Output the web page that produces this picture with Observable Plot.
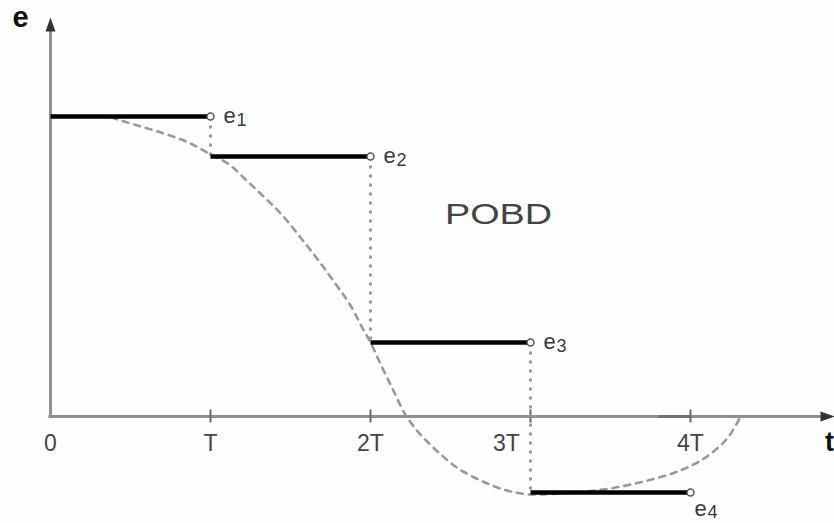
<!DOCTYPE html>
<html>
<head>
<meta charset="utf-8">
<script src="https://cdn.jsdelivr.net/npm/d3@7"></script>
<script src="https://cdn.jsdelivr.net/npm/@observablehq/plot@0.6"></script>
<style>
  html, body { margin: 0; padding: 0; background: #fefefe; }
  #chart svg { display: block; }
</style>
</head>
<body>
<div id="chart"></div>
<script>
// Sampling instants (multiples of the period T) and their axis labels
const ticks = [0, 1, 2, 3, 4];
const tickLabels = ["0", "T", "2T", "3T", "4T"];

// Held (zero-order) values e1..e4: each starts at k·T and lasts one period
const stepStart = [0, 1, 2, 3];
const stepLevel = [3.0, 2.6, 0.74, -0.76];
const stepIndex = ["1", "2", "3", "4"];

// Underlying continuous error signal e(t)
const curveT = [0.38, 0.5, 0.69, 0.875, 1.0, 1.125, 1.206, 1.325, 1.45, 1.5625, 1.675, 1.78, 1.875, 1.955, 2.0,
  2.07, 2.14, 2.21, 2.28, 2.36, 2.44, 2.53, 2.625, 2.73, 2.83, 2.94, 3.0,
  3.2, 3.375, 3.5, 3.64, 3.77, 3.875, 3.98, 4.06, 4.14, 4.21, 4.26, 4.31];
const curveE = [2.99, 2.93, 2.84, 2.73, 2.62, 2.51, 2.39, 2.21, 2.01, 1.79, 1.56, 1.33, 1.11, 0.87, 0.74,
  0.50, 0.27, 0.04, -0.12, -0.26, -0.38, -0.50, -0.59, -0.67, -0.73, -0.77, -0.78,
  -0.77, -0.745, -0.72, -0.675, -0.625, -0.575, -0.51, -0.445, -0.355, -0.255, -0.15, -0.01];

const note = ["POBD"];

const steps = stepStart.map((t, i) => ({t0: t, t1: t + 1, e: stepLevel[i], k: stepIndex[i]}));
const curve = curveT.map((t, i) => ({t, e: curveE[i]}));
// vertical drops joining consecutive held values
const drops = steps.map((s, i) => ({t: s.t1, from: s.e, to: i + 1 < steps.length ? steps[i + 1].e : null}))
  .filter(d => d.to !== null);

const font = "Liberation Sans, Arial, Helvetica, sans-serif";
const ink = "#3a3a3a";
const axisGray = "#919191";

// filled arrowhead pointing up (rotated for the time axis)
const arrowHead = {
  draw(ctx) {
    ctx.moveTo(0, -8);
    ctx.lineTo(5, 6);
    ctx.lineTo(-5, 6);
    ctx.closePath();
  }
};

const chart = Plot.plot({
  width: 834,
  height: 523,
  margin: 0,
  x: {domain: [-0.3125, 4.9], axis: null},
  y: {domain: [-1.07, 4.16], axis: null},
  style: {background: "#fefefe", fontFamily: font, overflow: "visible"},
  marks: [
    // axes
    Plot.ruleY([0], {x1: -0.01, x2: 4.82, stroke: axisGray, strokeWidth: 3}),
    Plot.ruleY([0], {x1: 3.8, x2: 4.0, stroke: "#6f6f6f", strokeWidth: 3}),
    Plot.ruleX([0], {y1: -0.015, y2: 3.9, stroke: axisGray, strokeWidth: 3}),
    Plot.ruleX(ticks.slice(1), {x: d => d, y1: -0.065, y2: 0.065, stroke: "#666", strokeWidth: 2}),
    Plot.dot([0], {x: 0, y: 3.91, symbol: arrowHead, fill: "#333", stroke: null}),
    Plot.dot([0], {x: 4.85, y: 0, symbol: arrowHead, rotate: 90, fill: "#333", stroke: null}),

    // tick labels (3T is set left of its drop line)
    Plot.text(ticks.filter(t => t !== 3), {
      x: d => d, y: 0, text: d => tickLabels[d], dy: 34, lineAnchor: "bottom",
      fontSize: 23, fill: "#444", fontFamily: font
    }),
    Plot.text([3], {
      x: d => d, y: 0, text: d => tickLabels[d], dx: -24, dy: 34, lineAnchor: "bottom",
      fontSize: 23, fill: "#444", fontFamily: font
    }),

    // continuous signal
    Plot.line(curve, {
      x: "t", y: "e", curve: "monotone-x",
      stroke: "#999", strokeWidth: 2.6, strokeDasharray: "6,6"
    }),

    // vertical drops between held values
    Plot.link(drops, {
      x1: "t", x2: "t", y1: "from", y2: "to",
      stroke: "#999", strokeWidth: 3, strokeDasharray: "3,6"
    }),

    // held values
    Plot.link(steps, {
      x1: "t0", x2: d => d.t1 - 0.02, y1: "e", y2: "e",
      stroke: "#000", strokeWidth: 4.5
    }),
    Plot.dot(steps, {x: "t1", y: "e", r: 3.5, fill: "#fff", stroke: "#555", strokeWidth: 1.5}),

    // labels e1..e3 to the right of each held value, e4 beneath its end
    Plot.text(steps.slice(0, 3), {
      x: "t1", y: "e", text: () => "e", dx: 13, dy: 6, textAnchor: "start", lineAnchor: "bottom",
      fontSize: 22, fill: ink, fontFamily: font
    }),
    Plot.text(steps.slice(0, 3), {
      x: "t1", y: "e", text: "k", dx: 26, dy: 9, textAnchor: "start", lineAnchor: "bottom",
      fontSize: 18, fill: ink, fontFamily: font
    }),
    Plot.text(steps.slice(3), {
      x: "t1", y: "e", text: () => "e", dx: 4, dy: 23, textAnchor: "start", lineAnchor: "bottom",
      fontSize: 22, fill: ink, fontFamily: font
    }),
    Plot.text(steps.slice(3), {
      x: "t1", y: "e", text: "k", dx: 17, dy: 25, textAnchor: "start", lineAnchor: "bottom",
      fontSize: 18, fill: ink, fontFamily: font
    }),

    // axis names
    Plot.text(["e"], {
      x: -0.3125, y: 4.16, text: d => d, dx: 12, dy: 26, textAnchor: "start", lineAnchor: "bottom",
      fontSize: 29, fontWeight: "bold", fill: "#111", fontFamily: font
    }),
    Plot.text(["t"], {
      x: 4.84, y: 0, text: d => d, dy: 34, textAnchor: "start", lineAnchor: "bottom",
      fontSize: 27, fontWeight: "bold", fill: "#111", fontFamily: font
    }),

    // method name
    Plot.text(note, {
      x: 2.8, y: 1.93, text: d => d, lineAnchor: "bottom",
      fontSize: 29, fill: "#444", fontFamily: font
    })
  ]
});

document.getElementById("chart").append(chart);

// widen the method name to its drawn extent
chart.querySelectorAll("text").forEach(el => {
  if (el.textContent === "POBD") {
    el.setAttribute("textLength", 107);
    el.setAttribute("lengthAdjust", "spacingAndGlyphs");
  }
});
</script>
</body>
</html>
